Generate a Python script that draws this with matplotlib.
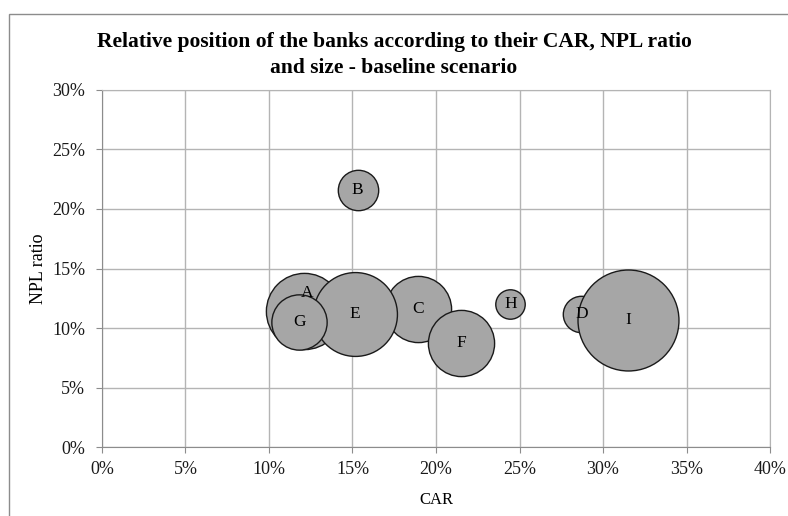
import matplotlib.pyplot as plt
from matplotlib.patches import Rectangle
from matplotlib.ticker import PercentFormatter

plt.rcParams['font.family'] = ['Liberation Serif', 'DejaVu Serif']

# bank data: capital adequacy ratio, non-performing loans ratio, relative size
banks = ['A', 'B', 'C', 'D', 'E', 'F', 'G', 'H', 'I']
car = [12.1, 15.3, 18.9, 28.7, 15.15, 21.5, 11.8, 24.45, 31.5]
npl = [11.4, 21.6, 11.6, 11.2, 11.2, 8.75, 10.5, 12.0, 10.7]
size = [57, 16, 43, 13, 69, 43, 30, 8.5, 100]

fig = plt.figure(figsize=(7.88, 5.16), dpi=100)
ax = fig.add_axes([0.1294, 0.1337, 0.8478, 0.6919])

# outer chart border (only the top and left edges show)
fig.patches.append(Rectangle((9 / 788, -0.1), 1.2, 1.1 - 14 / 516,
                             transform=fig.transFigure, fill=False,
                             edgecolor='#8c8c8c', linewidth=1.0))

scale = 52.85
for i, b in enumerate(banks):
    ax.scatter(car[i], npl[i], s=size[i] * scale, color='#a6a6a6',
               edgecolors='#1a1a1a', linewidths=1.0, zorder=3 + i)
    dy = 18 if b == 'A' else 0
    dx = 3 if b == 'A' else 0
    ax.annotate(b, (car[i], npl[i]), xytext=(dx * 0.72, dy * 0.72),
                textcoords='offset points', ha='center', va='center',
                fontsize=12.5, zorder=20)

ax.set_xlim(0, 40)
ax.set_ylim(0, 30)
ax.set_xticks(range(0, 41, 5))
ax.set_yticks(range(0, 31, 5))
ax.xaxis.set_major_formatter(PercentFormatter(decimals=0))
ax.yaxis.set_major_formatter(PercentFormatter(decimals=0))
ax.grid(True, color='#b4b4b4', linewidth=1.0, zorder=0)
ax.set_axisbelow(True)
for side in ['left', 'bottom']:
    ax.spines[side].set_color('#8c8c8c')
for side in ['top', 'right']:
    ax.spines[side].set_color('#b4b4b4')
ax.tick_params(axis='both', direction='out', length=4, color='#8c8c8c',
               labelsize=13, labelcolor='#1a1a1a')
ax.tick_params(axis='x', pad=6)
ax.tick_params(axis='y', pad=8)

ax.set_xlabel('CAR', fontsize=12, labelpad=10)
ax.set_ylabel('NPL ratio', fontsize=13, labelpad=4)
fig.text(0.5, 1 - 55 / 516, 'Relative position of the banks according to their CAR, NPL ratio\nand size - baseline scenario',
         ha='center', va='center', fontsize=15.5, fontweight='bold',
         linespacing=1.45)

fig.savefig('out.png', dpi=100)
